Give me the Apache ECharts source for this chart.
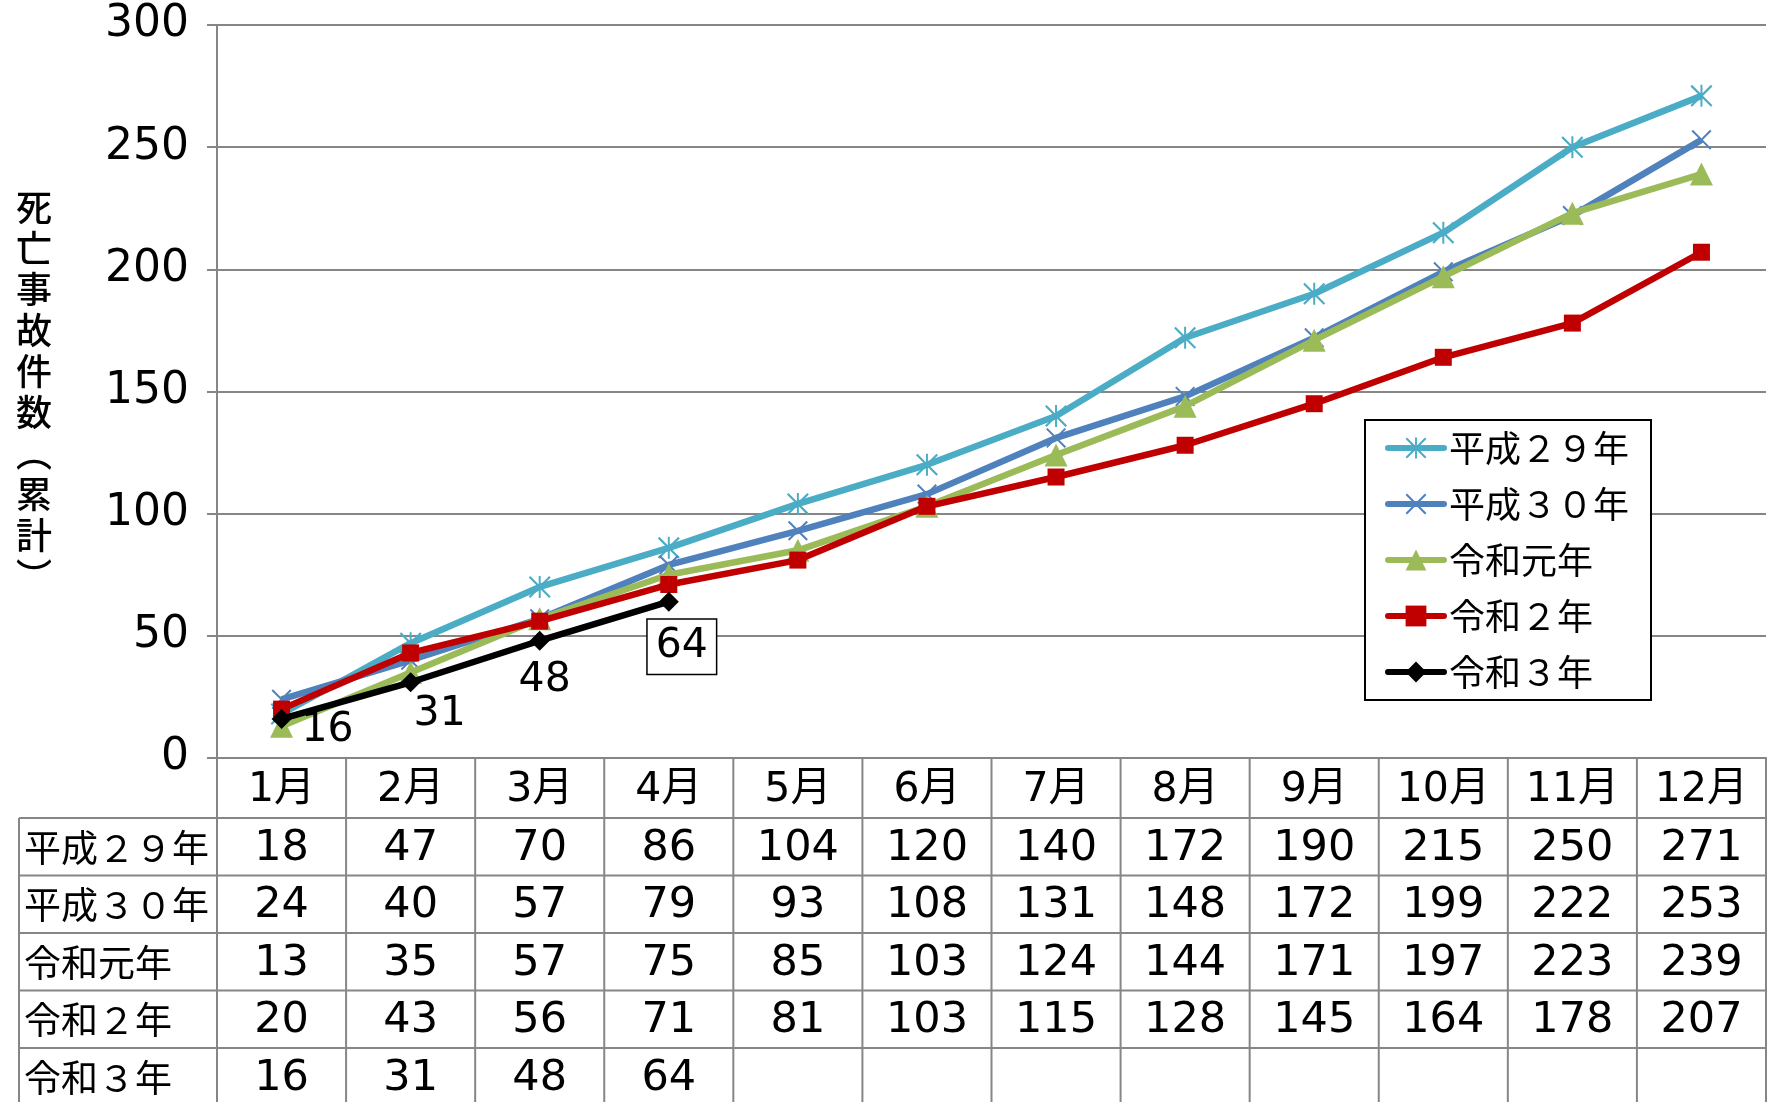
<!DOCTYPE html>
<html>
<head>
<meta charset="utf-8">
<script src="https://cdn.jsdelivr.net/npm/echarts@6/dist/echarts.min.js"></script>
<style>
html,body{margin:0;padding:0;background:#fff;}
#chart{width:1769px;height:1102px;}
</style>
</head>
<body>
<div id="chart"></div>
<script>
// ---- data ----
const months = ['1月','2月','3月','4月','5月','6月','7月','8月','9月','10月','11月','12月'];
const seriesNames = ['平成２９年','平成３０年','令和元年','令和２年','令和３年'];
const h29 = [18,47,70,86,104,120,140,172,190,215,250,271];
const h30 = [24,40,57,79,93,108,131,148,172,199,222,253];
const r1  = [13,35,57,75,85,103,124,144,171,197,223,239];
const r2  = [20,43,56,71,81,103,115,128,145,164,178,207];
const r3  = [16,31,48,64];
const yTicks = { min: 0, max: 300, interval: 50 };
const yName = '死亡事故件数（累計）';

// ---- style / layout ----
const NUM_FONT = '"DejaVu Sans", "Noto Sans CJK JP", sans-serif';
const JP_FONT = '"Noto Sans CJK JP", sans-serif';
const GRID_COLOR = '#868686';
const colors = ['#4BACC6','#4F81BD','#9BBB59','#C00000','#000000'];
const xPath = 'path://M0,1.4 L1.4,0 L20,18.6 L18.6,20 Z M18.6,0 L20,1.4 L1.4,20 L0,18.6 Z';
const starPath = 'path://M0,1.4 L1.4,0 L20,18.6 L18.6,20 Z M18.6,0 L20,1.4 L1.4,20 L0,18.6 Z M9.1,0 L10.9,0 L10.9,20 L9.1,20 Z';
const symbols = [starPath, xPath, 'triangle', 'rect', 'diamond'];
const symbolSizes = [22, 20, 23, 17, 20];
const labelOffsets = [[46,11],[29,32],[5,40],[13,45]];
const layout = { left: 217, right: 3, top: 25, bottom: 344, headerH: 60, rowH: 57.5, tableLeft: 19 };

const allSeries = [h29, h30, r1, r2, r3];

const chart = echarts.init(document.getElementById('chart'));

const series = allSeries.map((arr, si) => {
  const s = {
    name: seriesNames[si],
    type: 'line',
    data: arr.slice(),
    symbol: symbols[si],
    symbolSize: symbolSizes[si],
    lineStyle: { width: 6.5, color: colors[si] },
    itemStyle: { color: colors[si] },
    z: 2 + si
  };
  if (si === 4) {
    s.data = arr.map((v, i) => {
      const isLast = i === arr.length - 1;
      const lbl = {
        show: true,
        position: 'inside',
        offset: labelOffsets[i],
        color: '#000',
        fontSize: 41,
        fontFamily: NUM_FONT,
        textBorderWidth: 0
      };
      if (isLast) {
        lbl.borderColor = '#000';
        lbl.borderWidth = 1.5;
        lbl.backgroundColor = '#fff';
        lbl.padding = [4, 8, 4, 8];
        lbl.lineHeight = 46;
      }
      return { value: v, label: lbl };
    });
  }
  return s;
});

chart.setOption({
  animation: false,
  backgroundColor: '#fff',
  grid: { left: layout.left, right: layout.right, top: layout.top, bottom: layout.bottom, containLabel: false },
  legend: {
    orient: 'vertical',
    left: 1365,
    top: 420,
    padding: [8, 22, 8, 20],
    itemGap: 16,
    itemWidth: 56,
    itemHeight: 26,
    borderColor: '#000',
    borderWidth: 2,
    backgroundColor: '#fff',
    lineStyle: { width: 6, cap: 'round' },
    textStyle: { fontSize: 36, fontFamily: JP_FONT, color: '#000', lineHeight: 40 },
    data: seriesNames
  },
  xAxis: {
    type: 'category',
    data: months,
    boundaryGap: true,
    axisLine: { show: true, lineStyle: { color: GRID_COLOR, width: 2 } },
    axisTick: { show: false },
    axisLabel: { show: false },
    splitLine: { show: false }
  },
  yAxis: {
    type: 'value',
    min: yTicks.min,
    max: yTicks.max,
    interval: yTicks.interval,
    axisLine: { show: true, lineStyle: { color: GRID_COLOR, width: 2 } },
    axisTick: { show: true, length: 10, lineStyle: { color: GRID_COLOR, width: 2 } },
    splitLine: { show: true, lineStyle: { color: GRID_COLOR, width: 2 } },
    axisLabel: { fontSize: 44, color: '#000', margin: 28, fontFamily: NUM_FONT }
  },
  series: series
});

// ---- data table & axis name, positioned from the axes ----
function buildGraphics() {
  const c0 = chart.convertToPixel({ xAxisIndex: 0 }, 0);
  const c1 = chart.convertToPixel({ xAxisIndex: 0 }, 1);
  const colW = c1 - c0;
  const gx0 = c0 - colW / 2;
  const gx1 = gx0 + colW * months.length;
  const y0 = chart.convertToPixel({ yAxisIndex: 0 }, 0);
  const H = chart.getHeight();
  const els = [];
  const lineStyle = { stroke: GRID_COLOR, lineWidth: 2 };
  // vertical lines
  for (let k = 0; k <= months.length; k++) {
    const x = gx0 + k * colW;
    els.push({ type: 'line', shape: { x1: x, y1: y0, x2: x, y2: H }, style: lineStyle, silent: true });
  }
  els.push({ type: 'line', shape: { x1: layout.tableLeft, y1: y0 + layout.headerH, x2: layout.tableLeft, y2: H }, style: lineStyle, silent: true });
  // horizontal lines
  for (let r = 0; r <= seriesNames.length; r++) {
    const y = y0 + layout.headerH + r * layout.rowH;
    els.push({ type: 'line', shape: { x1: layout.tableLeft, y1: y, x2: gx1, y2: y }, style: lineStyle, silent: true });
  }
  // header
  months.forEach((m, i) => {
    els.push({ type: 'text', silent: true, style: {
      text: m, x: gx0 + (i + 0.5) * colW, y: y0 + layout.headerH / 2 + 2,
      align: 'center', verticalAlign: 'middle', fontSize: 41, fontFamily: NUM_FONT, fill: '#000'
    }});
  });
  // rows
  allSeries.forEach((arr, si) => {
    const cy = y0 + layout.headerH + (si + 0.5) * layout.rowH;
    els.push({ type: 'text', silent: true, style: {
      text: seriesNames[si], x: layout.tableLeft + 5, y: cy + 1,
      align: 'left', verticalAlign: 'middle', fontSize: 37, fontFamily: JP_FONT, fill: '#000'
    }});
    arr.forEach((v, i) => {
      els.push({ type: 'text', silent: true, style: {
        text: String(v), x: gx0 + (i + 0.5) * colW, y: cy + 2,
        align: 'center', verticalAlign: 'middle', fontSize: 43, fontFamily: NUM_FONT, fill: '#000'
      }});
    });
  });
  // vertical axis name
  const yTop = chart.convertToPixel({ yAxisIndex: 0 }, yTicks.max);
  const vert = yName.replace('（', '︵').replace('）', '︶').split('').join('\n');
  els.push({ type: 'text', silent: true, style: {
    text: vert, x: 34, y: (yTop + y0) / 2,
    align: 'center', verticalAlign: 'middle', fontSize: 36, lineHeight: 41, fontWeight: 500, fontFamily: JP_FONT, fill: '#000'
  }});
  chart.setOption({ graphic: els });
}
buildGraphics();
</script>
</body>
</html>
